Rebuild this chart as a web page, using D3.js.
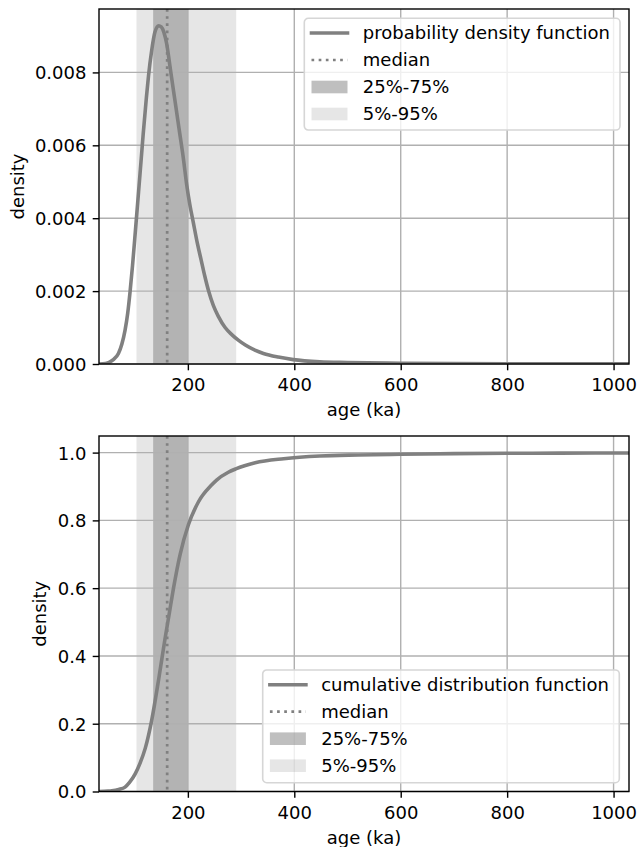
<!DOCTYPE html>
<html><head><meta charset="utf-8">
<script src="https://cdn.jsdelivr.net/npm/d3@7"></script>
<style>body{margin:0;background:#fff} text{font-family:"DejaVu Sans",sans-serif;fill:#000}</style>
</head><body><svg id="c" width="638" height="847"></svg>
<script>
// ---- data ----
const pdfAge     = [33, 45, 51, 60, 69.5, 76, 82, 87, 91.5, 96, 100, 105, 110, 116, 122, 126, 132, 138, 145, 150, 155, 160, 167, 173, 179, 185, 191, 198, 204, 210, 218, 225, 232, 239, 248, 257.5, 270, 283, 296, 308, 326, 342, 370, 398, 448, 500, 600, 700, 800, 900, 1029];
const pdfDensity = [0, 0.00001, 0.00004, 0.00012, 0.00029, 0.00055, 0.00093, 0.0014, 0.0020, 0.0027, 0.0034, 0.0043, 0.0052, 0.0063, 0.0073, 0.0079, 0.0086, 0.0091, 0.00928, 0.00925, 0.0091, 0.0088, 0.0081, 0.0075, 0.0069, 0.0063, 0.0057, 0.0049, 0.00435, 0.0039, 0.0033, 0.00285, 0.0024, 0.0020, 0.0016, 0.0013, 0.00100, 0.00080, 0.00064, 0.00052, 0.00038, 0.00029, 0.00019, 0.00012, 0.00006, 0.00004, 0.00002, 0.000012, 0.000008, 0.000005, 0.000003];
const cdfAge   = [33, 50, 57, 70, 82, 90, 101, 110, 120, 132, 145, 157, 165, 173, 185.5, 201, 220, 245, 254, 276, 290, 326.5, 380, 448, 520, 600, 700, 800, 900, 1029];
const cdfValue = [0, 0.001, 0.002, 0.006, 0.013, 0.026, 0.052, 0.083, 0.128, 0.21, 0.33, 0.45, 0.525, 0.60, 0.70, 0.787, 0.855, 0.905, 0.919, 0.942, 0.952, 0.970, 0.982, 0.990, 0.993, 0.995, 0.997, 0.998, 0.9985, 0.999];
const xTicks   = [200, 400, 600, 800, 1000];
const pdfTicks = [0, 0.002, 0.004, 0.006, 0.008];
const cdfTicks = [0, 0.2, 0.4, 0.6, 0.8, 1.0];
const median = 161.1;
const q25 = 134.8, q75 = 200.6;
const q5 = 103.4, q95 = 290.8;
const pdfLegend = ["probability density function", "median", "25%-75%", "5%-95%"];
const cdfLegend = ["cumulative distribution function", "median", "25%-75%", "5%-95%"];
const xLabel = "age (ka)";
const yLabel = "density";

// ---- drawing ----
const svg = d3.select("#c");
const FS = 18, TICK = 6.3, PAD = 6.3;
const GREY = "#808080";
const x = d3.scaleLinear().domain([33, 1029]).range([99, 629]);

function panel(cfg, idx) {
  const y = d3.scaleLinear().domain(cfg.yDomain).range([cfg.bottom, cfg.top]);
  const g = svg.append("g");
  const clipId = "clip" + idx;
  g.append("clipPath").attr("id", clipId).append("rect")
    .attr("x", x.range()[0]).attr("y", cfg.top)
    .attr("width", x.range()[1] - x.range()[0]).attr("height", cfg.bottom - cfg.top);

  // bands
  g.append("rect").attr("x", x(q5)).attr("width", x(q95) - x(q5))
    .attr("y", cfg.top).attr("height", cfg.bottom - cfg.top)
    .attr("fill", GREY).attr("fill-opacity", 0.2);
  g.append("rect").attr("x", x(q25)).attr("width", x(q75) - x(q25))
    .attr("y", cfg.top).attr("height", cfg.bottom - cfg.top)
    .attr("fill", GREY).attr("fill-opacity", 0.5);

  // grid
  g.append("g").selectAll("line").data(xTicks).join("line")
    .attr("x1", d => x(d)).attr("x2", d => x(d))
    .attr("y1", cfg.top).attr("y2", cfg.bottom)
    .attr("stroke", "#b0b0b0").attr("stroke-width", 1.4);
  g.append("g").selectAll("line").data(cfg.ticks).join("line")
    .attr("x1", x.range()[0]).attr("x2", x.range()[1])
    .attr("y1", d => y(d)).attr("y2", d => y(d))
    .attr("stroke", "#b0b0b0").attr("stroke-width", 1.4);

  // curve
  const line = d3.line().x(d => x(d[0])).y(d => y(d[1])).curve(d3.curveMonotoneX);
  g.append("path").datum(d3.zip(cfg.xs, cfg.ys))
    .attr("clip-path", `url(#${clipId})`)
    .attr("d", line).attr("fill", "none")
    .attr("stroke", GREY).attr("stroke-width", 3.6).attr("stroke-linejoin", "round");

  // median
  g.append("line").attr("x1", x(median)).attr("x2", x(median))
    .attr("y1", cfg.top).attr("y2", cfg.bottom)
    .attr("stroke", GREY).attr("stroke-width", 2.7).attr("stroke-dasharray", "2.7 4.46");

  // axes
  const ax = g.append("g").attr("transform", `translate(0,${cfg.bottom})`)
    .call(d3.axisBottom(x).tickValues(xTicks).tickFormat(d3.format("d")).tickSize(TICK).tickPadding(PAD));
  const ay = g.append("g").attr("transform", `translate(${x.range()[0]},0)`)
    .call(d3.axisLeft(y).tickValues(cfg.ticks).tickFormat(d3.format(cfg.fmt)).tickSize(TICK).tickPadding(PAD));
  [ax, ay].forEach(a => {
    a.select(".domain").remove();
    a.selectAll(".tick line").attr("stroke", "#000").attr("stroke-width", 1.4);
    a.selectAll(".tick text").attr("font-size", FS).attr("font-family", "DejaVu Sans").attr("fill", "#000");
  });
  ax.selectAll(".tick text").attr("dy", "0.8em");
  ay.selectAll(".tick text").attr("dy", "0.36em");

  // frame
  g.append("rect").attr("x", x.range()[0]).attr("y", cfg.top)
    .attr("width", x.range()[1] - x.range()[0]).attr("height", cfg.bottom - cfg.top)
    .attr("fill", "none").attr("stroke", "#000").attr("stroke-width", 1.4);

  // labels
  g.append("text").attr("x", (x.range()[0] + x.range()[1]) / 2).attr("y", cfg.bottom + 52)
    .attr("text-anchor", "middle").attr("font-size", FS).text(xLabel);
  g.append("text").attr("transform", `translate(${cfg.ylabelX},${(cfg.top + cfg.bottom) / 2}) rotate(-90)`)
    .attr("text-anchor", "middle").attr("font-size", FS).text(yLabel);

  // legend
  const L = cfg.legend;
  const lg = g.append("g").attr("transform", `translate(${L.x},${L.y})`);
  lg.append("rect").attr("width", L.w).attr("height", L.h).attr("rx", 4)
    .attr("fill", "#fff").attr("fill-opacity", 0.8)
    .attr("stroke", "#d6d6d6").attr("stroke-width", 1.6);
  cfg.labels.forEach((lab, i) => {
    const cy = 14.7 + 27 * i;
    if (i === 0) {
      lg.append("line").attr("x1", 7.2).attr("x2", 43.2).attr("y1", cy).attr("y2", cy)
        .attr("stroke", GREY).attr("stroke-width", 3.6).attr("stroke-linecap", "square");
    } else if (i === 1) {
      lg.append("line").attr("x1", 7.2).attr("x2", 43.2).attr("y1", cy).attr("y2", cy)
        .attr("stroke", GREY).attr("stroke-width", 2.7).attr("stroke-dasharray", "2.7 4.46");
    } else {
      lg.append("rect").attr("x", 7.2).attr("width", 36).attr("y", cy - 6.3).attr("height", 12.6)
        .attr("fill", GREY).attr("fill-opacity", i === 2 ? 0.5 : 0.2);
    }
    lg.append("text").attr("x", 58.5).attr("y", cy + 6.4).attr("font-size", FS).text(lab);
  });
}

panel({top: 9, bottom: 364, yDomain: [0, 0.00974], ticks: pdfTicks, fmt: ".3f",
       xs: pdfAge, ys: pdfDensity, ylabelX: 23.5, labels: pdfLegend,
       legend: {x: 304.3, y: 18.3, w: 315.7, h: 111.7}}, 0);
panel({top: 436, bottom: 791.5, yDomain: [0, 1.049], ticks: cdfTicks, fmt: ".1f",
       xs: cdfAge, ys: cdfValue, ylabelX: 46.4, labels: cdfLegend,
       legend: {x: 262.7, y: 670, w: 356.6, h: 112.7}}, 1);
</script></body></html>
